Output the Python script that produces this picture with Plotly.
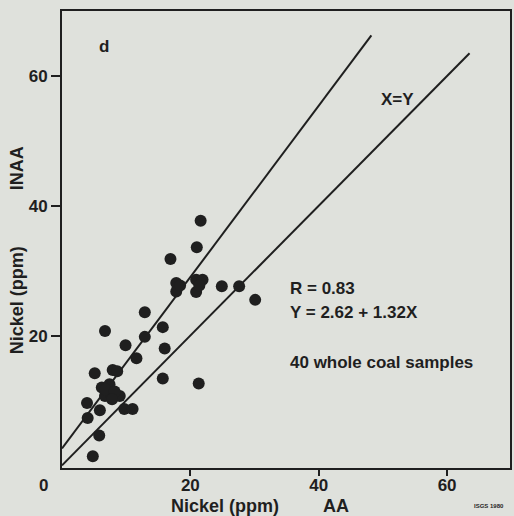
import plotly.graph_objects as go

# Data: Nickel (ppm) AA (x) vs INAA (y), 40 whole coal samples
aa_ppm = [21.6, 21.0, 16.9, 17.8, 17.8, 20.9, 21.9, 20.9, 24.9, 27.6,
          30.1, 12.9, 6.7, 15.7, 12.9, 9.9, 11.6, 16.0, 5.1, 7.9,
          8.6, 15.7, 21.3, 6.2, 7.4, 6.7, 7.7, 9.0, 3.9, 5.9,
          9.7, 11.0, 4.0, 5.8, 4.8, 6.8, 8.2, 18.4, 21.4, 7.8]
inaa_ppm = [37.7, 33.6, 31.8, 28.1, 26.8, 28.6, 28.6, 26.7, 27.6, 27.6,
            25.5, 23.6, 20.7, 21.3, 19.8, 18.5, 16.5, 18.0, 14.2, 14.7,
            14.5, 13.4, 12.6, 12.0, 12.5, 10.7, 10.9, 10.7, 9.6, 8.5,
            8.7, 8.7, 7.3, 4.6, 1.4, 11.7, 11.4, 27.7, 27.7, 10.2]

# Regression Y = 2.62 + 1.32X and the X=Y line
reg_intercept = 2.62
reg_slope = 1.32
reg_x = [0, 48.2]
reg_y = [reg_intercept + reg_slope * v for v in reg_x]
eq_x = [0, 63.5]
eq_y = [0, 63.5]

tick_vals = [20, 40, 60]
tick_text = ["20", "40", "60"]

INK = "#1f1f1f"
BG = "#dfe1dc"
FONT = "Liberation Sans"

fig = go.Figure()
fig.add_trace(go.Scatter(x=reg_x, y=reg_y, mode="lines",
                         line=dict(color=INK, width=2), hoverinfo="skip"))
fig.add_trace(go.Scatter(x=eq_x, y=eq_y, mode="lines",
                         line=dict(color=INK, width=2), hoverinfo="skip"))
fig.add_trace(go.Scatter(x=aa_ppm, y=inaa_ppm, mode="markers",
                         marker=dict(color=INK, size=12, line=dict(width=0))))

axis_common = dict(
    showgrid=False, zeroline=False, showline=True, linecolor=INK, linewidth=2,
    mirror=True, ticks="outside", tickwidth=2, tickcolor=INK,
    tickvals=tick_vals, ticktext=tick_text,
    tickfont=dict(family=FONT, size=17, color=INK, weight="bold"),
)
fig.update_xaxes(range=[0, 69.8], ticklen=6, ticklabelstandoff=-5, **axis_common)
fig.update_yaxes(range=[-0.4, 70], ticklen=9, **axis_common)

ann_font = dict(family=FONT, size=17, color=INK, weight="bold")
annotations = [
    dict(x=6.5, y=64.5, text="d", xanchor="center", yanchor="middle"),
    dict(x=52.2, y=56.3, text="X=Y", xanchor="center", yanchor="middle"),
    dict(x=35.2, y=27.3, text="R = 0.83", xanchor="left", yanchor="middle"),
    dict(x=35.2, y=23.5, text="Y = 2.62 + 1.32X", xanchor="left", yanchor="middle"),
    dict(x=35.2, y=15.9, text="40 whole coal samples", xanchor="left", yanchor="middle"),
]
for a in annotations:
    fig.add_annotation(xref="x", yref="y", showarrow=False, font=ann_font, **a)

# Outside labels in pixel-ish paper positions
W, H = 514, 516
l, r, t, b = 62, 2, 11, 48
pw, ph = W - l - r, H - t - b
def px(xp):
    return (xp - l) / pw
def py(yp):
    return (H - b - yp) / ph

outside = [
    dict(x=px(43), y=py(485), text="0", textangle=0, size=17),
    dict(x=px(226), y=py(506), text="Nickel (ppm)", textangle=0, size=18),
    dict(x=px(337), y=py(506), text="AA", textangle=0, size=18),
    dict(x=px(491), y=py(506), text="ISGS 1980", textangle=0, size=6),
    dict(x=px(17), y=py(300), text="Nickel (ppm)", textangle=-90, size=18),
    dict(x=px(17), y=py(168), text="INAA", textangle=-90, size=18),
]
for a in outside:
    fig.add_annotation(xref="paper", yref="paper", x=a["x"], y=a["y"], text=a["text"],
                       textangle=a["textangle"], showarrow=False,
                       xanchor="center", yanchor="middle",
                       font=dict(family=FONT, size=a["size"], color=INK, weight="bold"))

fig.update_layout(
    width=W, height=H, margin=dict(l=l, r=r, t=t, b=b),
    paper_bgcolor=BG, plot_bgcolor=BG, showlegend=False,
)
fig.write_html("out.html")
